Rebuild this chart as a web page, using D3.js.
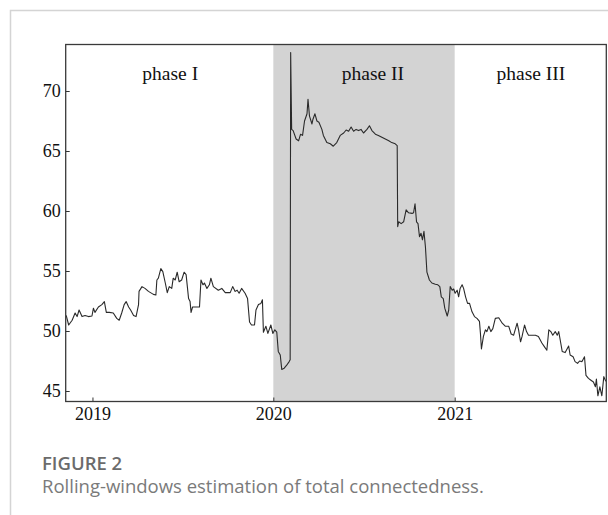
<!DOCTYPE html>
<html>
<head>
<meta charset="utf-8">
<script src="https://cdn.jsdelivr.net/npm/d3@7"></script>
<style>
  html, body { margin: 0; padding: 0; background: #fff; }
  svg { display: block; }
</style>
</head>
<body>
<svg id="chart" width="608" height="515"></svg>
<script>
// Rolling-window total connectedness index
const dates = [
  "2018-11-09","2018-11-14","2018-11-21","2018-11-27","2018-12-01","2018-12-05","2018-12-11","2018-12-17","2018-12-24","2018-12-31",
  "2019-01-03","2019-01-06","2019-01-13","2019-01-20","2019-01-25","2019-01-29","2019-02-04","2019-02-12","2019-02-19","2019-02-24",
  "2019-03-01","2019-03-06","2019-03-10","2019-03-15","2019-03-19","2019-03-25","2019-03-30","2019-04-04","2019-04-05","2019-04-11",
  "2019-04-17","2019-04-24","2019-05-04","2019-05-09","2019-05-11","2019-05-14","2019-05-19","2019-05-23","2019-05-28","2019-06-01",
  "2019-06-05","2019-06-10","2019-06-13","2019-06-17","2019-06-21","2019-06-25","2019-06-30","2019-07-05","2019-07-09","2019-07-14",
  "2019-07-17","2019-07-19","2019-07-22","2019-07-31","2019-08-05","2019-08-08","2019-08-12","2019-08-15","2019-08-20","2019-08-25",
  "2019-08-28","2019-09-02","2019-09-12","2019-09-19","2019-09-26","2019-10-06","2019-10-11","2019-10-16","2019-10-20","2019-10-24",
  "2019-10-29","2019-11-05","2019-11-10","2019-11-14","2019-11-18","2019-11-24","2019-11-27","2019-12-02","2019-12-07","2019-12-10",
  "2019-12-12","2019-12-17","2019-12-21","2019-12-27","2019-12-31",
  "2020-01-04","2020-01-08","2020-01-11","2020-01-15","2020-01-18","2020-01-23","2020-01-28","2020-02-02","2020-02-04","2020-02-05",
  "2020-02-07","2020-02-10","2020-02-16","2020-02-21","2020-02-25","2020-02-29","2020-03-04","2020-03-09","2020-03-11","2020-03-14",
  "2020-03-19","2020-03-21","2020-03-25","2020-03-29","2020-04-02","2020-04-08","2020-04-11","2020-04-18","2020-04-25","2020-05-01",
  "2020-05-08","2020-05-15","2020-05-22","2020-05-27","2020-06-01","2020-06-06","2020-06-11","2020-06-16","2020-06-21","2020-06-26",
  "2020-07-01","2020-07-08","2020-07-13","2020-07-18","2020-07-25","2020-07-31","2020-08-07","2020-08-14","2020-08-21","2020-08-27",
  "2020-09-03","2020-09-07","2020-09-08","2020-09-10","2020-09-15","2020-09-20","2020-09-25","2020-09-30","2020-10-07","2020-10-10",
  "2020-10-13","2020-10-16","2020-10-19","2020-10-22","2020-10-25","2020-10-28","2020-10-31","2020-11-03","2020-11-06","2020-11-11",
  "2020-11-16","2020-11-23","2020-11-28","2020-12-02","2020-12-05","2020-12-09","2020-12-12","2020-12-17","2020-12-20","2020-12-23",
  "2020-12-27","2020-12-30",
  "2021-01-02","2021-01-06","2021-01-09","2021-01-12","2021-01-16","2021-01-19","2021-01-23","2021-01-27","2021-01-31","2021-02-05",
  "2021-02-10","2021-02-15","2021-02-20","2021-02-22","2021-02-24","2021-02-28","2021-03-04","2021-03-07","2021-03-11","2021-03-15",
  "2021-03-19","2021-03-24","2021-03-31","2021-04-07","2021-04-13","2021-04-20","2021-04-25","2021-04-30","2021-05-07","2021-05-10",
  "2021-05-14","2021-05-17","2021-05-22","2021-05-26","2021-05-30","2021-06-06","2021-06-13","2021-06-19","2021-06-26","2021-07-01",
  "2021-07-06","2021-07-10","2021-07-14","2021-07-18","2021-07-23","2021-07-27","2021-07-30","2021-08-02","2021-08-06","2021-08-12",
  "2021-08-19","2021-08-22","2021-08-28","2021-09-01","2021-09-06","2021-09-10","2021-09-15","2021-09-20","2021-09-23","2021-09-28",
  "2021-10-03","2021-10-08","2021-10-12","2021-10-14","2021-10-17","2021-10-21","2021-10-25","2021-10-29","2021-11-02"
];
const values = [
  51.3, 50.5, 50.9, 51.5, 51.2, 51.75, 51.2, 51.3, 51.2, 51.25,
  51.9, 51.55, 52.0, 52.2, 52.45, 51.55, 51.55, 51.5, 51.05, 50.9,
  51.5, 52.2, 52.45, 52.0, 51.75, 51.3, 51.2, 52.2, 53.3, 53.7,
  53.55, 53.3, 53.05, 53.0, 54.25, 54.4, 55.2, 54.95, 54.0, 53.2,
  53.7, 53.55, 54.4, 54.25, 54.9, 54.1, 54.25, 54.9, 54.7, 52.7,
  52.45, 51.55, 52.0, 52.0, 52.0, 54.25, 53.85, 54.0, 53.55, 53.85,
  54.4, 53.7, 53.4, 53.55, 53.2, 53.2, 53.7, 53.3, 53.4, 53.15,
  53.55, 53.15, 52.7, 50.75, 50.5, 50.5, 51.75, 52.2, 52.3, 52.6,
  49.9, 50.4, 49.8, 50.5, 49.8,
  50.1, 49.9, 48.3, 48.0, 46.8, 46.9, 47.15, 47.45, 47.6, 73.2,
  66.8, 66.7, 66.0, 65.85, 66.4, 66.3, 67.5, 68.1, 69.3, 67.9,
  67.25, 67.65, 68.1, 67.5, 67.4, 66.8, 66.3, 65.7, 65.6, 65.4,
  65.7, 66.3, 66.5, 66.75, 66.65, 67.0, 66.65, 66.8, 66.7, 66.8,
  66.5, 66.8, 67.1, 66.7, 66.4, 66.3, 66.15, 66.0, 65.85, 65.7,
  65.6, 65.45, 58.7, 59.1, 58.95, 59.1, 60.1, 59.85, 59.8, 59.85,
  60.6, 59.1, 58.95, 57.85, 58.15, 57.6, 58.3, 57.0, 54.9, 54.25,
  54.0, 53.9, 53.85, 53.7, 52.85, 52.7, 51.9, 51.25, 51.75, 53.7,
  53.4, 53.5,
  53.15, 53.4, 52.85, 53.55, 53.85, 53.55, 52.85, 52.3, 52.3, 51.6,
  51.2, 51.05, 50.8, 49.8, 48.5, 49.55, 50.1, 49.95, 50.4, 49.95,
  50.2, 51.05, 51.1, 50.65, 50.4, 50.4, 49.75, 49.65, 50.65, 50.1,
  49.1, 49.55, 50.5, 49.95, 49.65, 49.65, 49.65, 49.55, 49.0, 48.7,
  48.4, 50.1, 49.95, 49.65, 49.95, 49.65, 49.95, 49.25, 48.3, 48.2,
  48.75, 48.0, 47.85, 47.45, 47.3, 47.5, 47.45, 47.85, 46.3, 46.05,
  45.9, 45.75, 45.35, 46.0, 44.6, 45.35, 44.6, 46.2, 45.8
];

// Phases of the sample period
const phaseNames = ["phase I", "phase II", "phase III"];
const phaseStarts = ["2018-11-08", "2020-01-01", "2021-01-01"];
const phaseEnds = ["2020-01-01", "2021-01-01", "2021-11-03"];
const phaseLabelDates = ["2019-06-07", "2020-07-20", "2021-06-04"];
const phaseShaded = [false, true, false];

const xTicks = ["2019-01-01", "2020-01-01", "2021-01-01"];
const yTicks = [45, 50, 55, 60, 65, 70];
const xDomain = ["2018-11-08", "2021-11-03"];
const yDomain = [44.125, 73.875];

const figureTitle = "FIGURE 2";
const figureCaption = "Rolling-windows estimation of total connectedness.";

const parse = d3.utcParse("%Y-%m-%d");
const series = dates.map((d, i) => ({ date: parse(d), value: values[i] }));

const svg = d3.select("#chart");
const W = 608, H = 515;
const plot = { left: 65.7, right: 606.3, top: 44.5, bottom: 401.5 };
const serif = "'Liberation Serif', 'Times New Roman', serif";
const sans = "'Open Sans', 'Noto Sans', sans-serif";

// page card outline
svg.append("path")
  .attr("d", `M10.5,${H} L10.5,10.5 L${W},10.5`)
  .attr("fill", "none")
  .attr("stroke", "#d4d4d4")
  .attr("stroke-width", 1.5);

const x = d3.scaleUtc().domain(xDomain.map(parse)).range([plot.left, plot.right]);
const y = d3.scaleLinear().domain(yDomain).range([plot.bottom, plot.top]);

// shaded phase band
svg.append("g").selectAll("rect")
  .data(phaseNames.map((n, i) => ({ s: parse(phaseStarts[i]), e: parse(phaseEnds[i]), shaded: phaseShaded[i] })).filter(p => p.shaded))
  .join("rect")
  .attr("x", d => x(d.s))
  .attr("width", d => x(d.e) - x(d.s))
  .attr("y", plot.top)
  .attr("height", plot.bottom - plot.top)
  .attr("fill", "#d3d3d3");

// phase labels
svg.append("g").selectAll("text")
  .data(phaseNames.map((n, i) => ({ name: n, date: parse(phaseLabelDates[i]) })))
  .join("text")
  .attr("x", d => x(d.date))
  .attr("y", 80)
  .attr("text-anchor", "middle")
  .attr("font-family", serif)
  .attr("font-size", 19.5)
  .attr("fill", "#111")
  .text(d => d.name);

// connectedness line
svg.append("clipPath").attr("id", "plotclip")
  .append("rect")
  .attr("x", plot.left).attr("y", plot.top)
  .attr("width", plot.right - plot.left).attr("height", plot.bottom - plot.top);

svg.append("path")
  .datum(series)
  .attr("clip-path", "url(#plotclip)")
  .attr("fill", "none")
  .attr("stroke", "#2a2a2a")
  .attr("stroke-width", 1.1)
  .attr("stroke-linejoin", "round")
  .attr("d", d3.line().x(d => x(d.date)).y(d => y(d.value)));

// axes with inward ticks
const xAxis = d3.axisBottom(x)
  .tickValues(xTicks.map(parse))
  .tickFormat(d3.utcFormat("%Y"))
  .tickSizeInner(-4).tickSizeOuter(0).tickPadding(6);
const yAxis = d3.axisLeft(y)
  .tickValues(yTicks)
  .tickFormat(d3.format("d"))
  .tickSizeInner(-4).tickSizeOuter(0).tickPadding(5);

const gx = svg.append("g").attr("transform", `translate(0,${plot.bottom})`).call(xAxis);
const gy = svg.append("g").attr("transform", `translate(${plot.left},0)`).call(yAxis);
[gx, gy].forEach(g => {
  g.select(".domain").remove();
  g.selectAll(".tick line").attr("stroke", "#333").attr("stroke-width", 1);
  g.selectAll(".tick text")
    .attr("font-family", serif)
    .attr("font-size", 18)
    .attr("fill", "#111");
});

// plot frame
svg.append("rect")
  .attr("x", plot.left).attr("y", plot.top)
  .attr("width", plot.right - plot.left).attr("height", plot.bottom - plot.top)
  .attr("fill", "none")
  .attr("stroke", "#3a3a3a")
  .attr("stroke-width", 1.3);

// figure caption
svg.append("text")
  .attr("x", 42).attr("y", 470)
  .attr("font-family", sans)
  .attr("font-weight", 600)
  .attr("font-size", 18.5)
  .attr("fill", "#6b6b6b")
  .text(figureTitle);
svg.append("text")
  .attr("x", 42).attr("y", 493)
  .attr("font-family", sans)
  .attr("font-size", 18.5)
  .attr("fill", "#7a7a7a")
  .text(figureCaption);
</script>
</body>
</html>
